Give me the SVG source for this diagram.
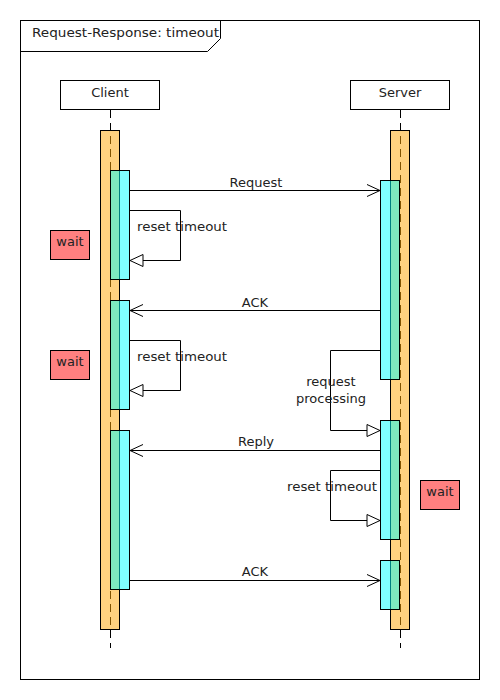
<svg xmlns="http://www.w3.org/2000/svg" width="500" height="700" viewBox="0 0 500 700">
<style>
text{font-family:"DejaVu Sans","Liberation Sans",sans-serif;font-size:13px;fill:#222}
.c{text-anchor:middle}
.ln{stroke:#000;stroke-width:1;fill:none}
.life{stroke:#000;stroke-width:1;stroke-dasharray:8,5;fill:none}
.exec{fill:#FFA500;fill-opacity:.5;stroke:#000;stroke-width:1}
.act{fill:#00FFFF;fill-opacity:.5;stroke:#000;stroke-width:1}
.wait{fill:#FF8080;stroke:#000;stroke-width:1}
.box{fill:#fff;stroke:#000;stroke-width:1}
</style>
<defs>
<marker id="open" markerWidth="14" markerHeight="14" refX="13" refY="7" orient="auto" markerUnits="userSpaceOnUse"><path d="M0,1 L13,7 L0,13" fill="none" stroke="#000" stroke-width="1"/></marker>
<marker id="tri" markerWidth="16" markerHeight="16" refX="14" refY="7" orient="auto" markerUnits="userSpaceOnUse"><path d="M1,1 L14,7 L1,13 Z" fill="#fff" stroke="#000" stroke-width="1"/></marker>
</defs>
<rect width="500" height="700" fill="#fff"/>
<g id="frame">
<rect x="20.5" y="20.5" width="459" height="659" class="ln"/>
<path d="M20.5,51.5 H207.5 L220.5,38.5 V20.5" class="ln"/>
<text x="32" y="37" textLength="187" lengthAdjust="spacingAndGlyphs">Request-Response: timeout</text>
</g>
<g id="client">
<rect x="60.5" y="80.5" width="99" height="29" class="box"/>
<text x="110" y="97" class="c">Client</text>
<line x1="110.5" y1="110" x2="110.5" y2="648" class="life"/>
<rect x="100.5" y="130.5" width="19" height="499" class="exec"/>
<rect x="110.5" y="170.5" width="19" height="109" class="act"/>
<rect x="110.5" y="300.5" width="19" height="109" class="act"/>
<rect x="110.5" y="430.5" width="19" height="159" class="act"/>
</g>
<g id="server">
<rect x="350.5" y="80.5" width="99" height="29" class="box"/>
<text x="400" y="97" class="c">Server</text>
<line x1="400.5" y1="110" x2="400.5" y2="648" class="life"/>
<rect x="390.5" y="130.5" width="19" height="499" class="exec"/>
<rect x="380.5" y="180.5" width="19" height="199" class="act"/>
<rect x="380.5" y="420.5" width="19" height="119" class="act"/>
<rect x="380.5" y="560.5" width="19" height="49" class="act"/>
</g>
<g id="wait1"><rect x="50.5" y="230.5" width="39" height="29" class="wait"/><text x="70" y="246" class="c">wait</text></g>
<g id="wait2"><rect x="50.5" y="350.5" width="39" height="29" class="wait"/><text x="70" y="366" class="c">wait</text></g>
<g id="wait3"><rect x="420.5" y="480.5" width="39" height="29" class="wait"/><text x="440" y="496" class="c">wait</text></g>
<g id="connectors">
<line x1="130" y1="190.5" x2="380" y2="190.5" class="ln" marker-end="url(#open)"/>
<text x="256" y="187" class="c">Request</text>
<path d="M130,210.5 H180.5 V260.5 H130" class="ln" marker-end="url(#tri)"/>
<text x="137" y="231" textLength="90" lengthAdjust="spacingAndGlyphs">reset timeout</text>
<line x1="380" y1="310.5" x2="130" y2="310.5" class="ln" marker-end="url(#open)"/>
<text x="255" y="307" class="c">ACK</text>
<path d="M130,340.5 H180.5 V390.5 H130" class="ln" marker-end="url(#tri)"/>
<text x="137" y="361" textLength="90" lengthAdjust="spacingAndGlyphs">reset timeout</text>
<path d="M380,350.5 H330.5 V430.5 H380" class="ln" marker-end="url(#tri)"/>
<text x="331" y="386" class="c">request</text>
<text x="331" y="403" class="c">processing</text>
<line x1="380" y1="450.5" x2="130" y2="450.5" class="ln" marker-end="url(#open)"/>
<text x="256" y="446" class="c">Reply</text>
<path d="M380,470.5 H330.5 V520.5 H380" class="ln" marker-end="url(#tri)"/>
<text x="287" y="491" textLength="90" lengthAdjust="spacingAndGlyphs">reset timeout</text>
<line x1="130" y1="580.5" x2="380" y2="580.5" class="ln" marker-end="url(#open)"/>
<text x="255" y="576" class="c">ACK</text>
</g>
</svg>
